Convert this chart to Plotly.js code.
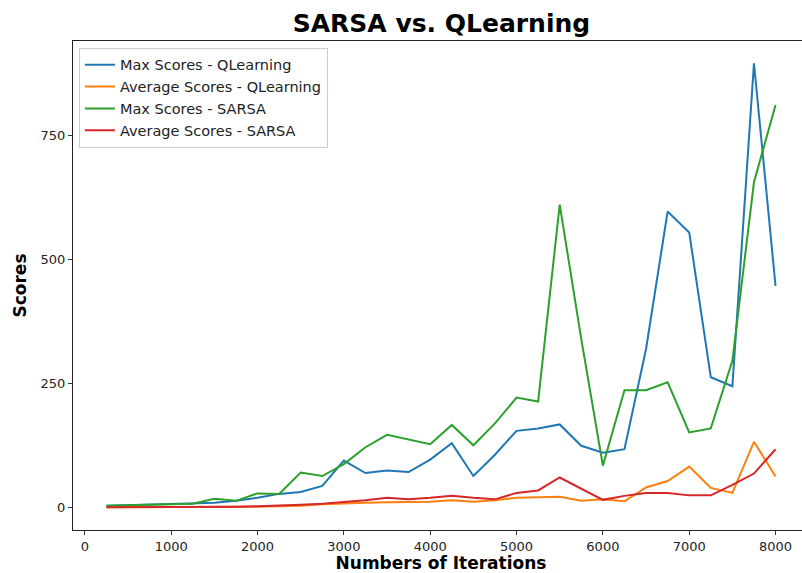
<!DOCTYPE html>
<html>
<head>
<meta charset="utf-8">
<script src="https://cdn.plot.ly/plotly-3.0.1.min.js"></script>
<style>
html,body{margin:0;padding:0;overflow:hidden;background:#fff;}
#chart{width:810px;height:573px;}
</style>
</head>
<body>
<div id="chart"></div>
<script>
const iterations = [250,500,750,1000,1250,1500,1750,2000,2250,2500,2750,3000,3250,3500,3750,4000,4250,4500,4750,5000,5250,5500,5750,6000,6250,6500,6750,7000,7250,7500,7750,8000];
const maxQ = [4,5,6,7,8,10,14,20,28,32,44,95,70,75,72,97,130,64,107,155,160,168,125,111,118,320,597,555,263,245,896,447];
const avgQ = [1,1,1,1,1,1,2,2,3,4,7,9,10,11,11,12,15,12,15,20,21,22,14,17,13,41,54,83,40,30,133,63];
const maxS = [4,5,6,7,8,18,14,29,28,71,64,88,122,147,138,128,167,126,170,222,214,611,340,85,237,237,253,152,160,296,656,812];
const avgS = [1,1,1,1,1,2,2,3,4,6,8,11,15,20,17,20,24,20,17,30,35,61,38,16,24,30,30,25,25,46,69,118];
const seriesNames = ["Max Scores - QLearning","Average Scores - QLearning","Max Scores - SARSA","Average Scores - SARSA"];
const colors = ["#1f77b4","#ff7f0e","#2ca02c","#d62728"];
const xTicks = [0,1000,2000,3000,4000,5000,6000,7000,8000];
const yTicks = [0,250,500,750];

const series = [maxQ, avgQ, maxS, avgS];
const traces = series.map((ys, i) => ({
  x: iterations, y: ys, type: "scatter", mode: "lines",
  name: seriesNames[i], line: {color: colors[i], width: 2}
}));

const font = "DejaVu Sans, sans-serif";
const layout = {
  width: 810, height: 573,
  margin: {l: 73, r: 1, t: 41, b: 43},
  paper_bgcolor: "#fff", plot_bgcolor: "#fff",
  font: {family: font, size: 13, color: "#222"},
  title: {text: "<b>SARSA vs. QLearning</b>", font: {family: font, size: 25, color: "#000"},
          x: 0.545, xanchor: "center", y: 0.96, yanchor: "middle", yref: "container"},
  xaxis: {
    range: [-137.5, 8387.5], tickvals: xTicks, ticktext: xTicks.map(String),
    ticks: "outside", ticklen: 4, tickcolor: "#333", showgrid: false, zeroline: false,
    showline: true, linecolor: "#222", linewidth: 1, mirror: true,
    tickfont: {size: 13, color: "#222"},
    title: {text: "<b>Numbers of Iterations</b>", font: {family: font, size: 17, color: "#000"}, standoff: 5}
  },
  yaxis: {
    range: [-44.8, 940.8], tickvals: yTicks, ticktext: yTicks.map(String),
    ticks: "outside", ticklen: 4, tickcolor: "#333", showgrid: false, zeroline: false,
    showline: true, linecolor: "#222", linewidth: 1, mirror: true,
    tickfont: {size: 13, color: "#222"},
    title: {text: "<b>Scores</b>", font: {family: font, size: 17, color: "#000"}, standoff: 9}
  },
  showlegend: true,
  legend: {
    x: 0.008, y: 0.986, xanchor: "left", yanchor: "top",
    bgcolor: "rgba(255,255,255,0.8)", bordercolor: "#cccccc", borderwidth: 1,
    font: {family: font, size: 14.5, color: "#222"}, tracegroupgap: 0
  }
};
Plotly.newPlot("chart", traces, layout, {displayModeBar: false, staticPlot: true});
</script>
</body>
</html>
